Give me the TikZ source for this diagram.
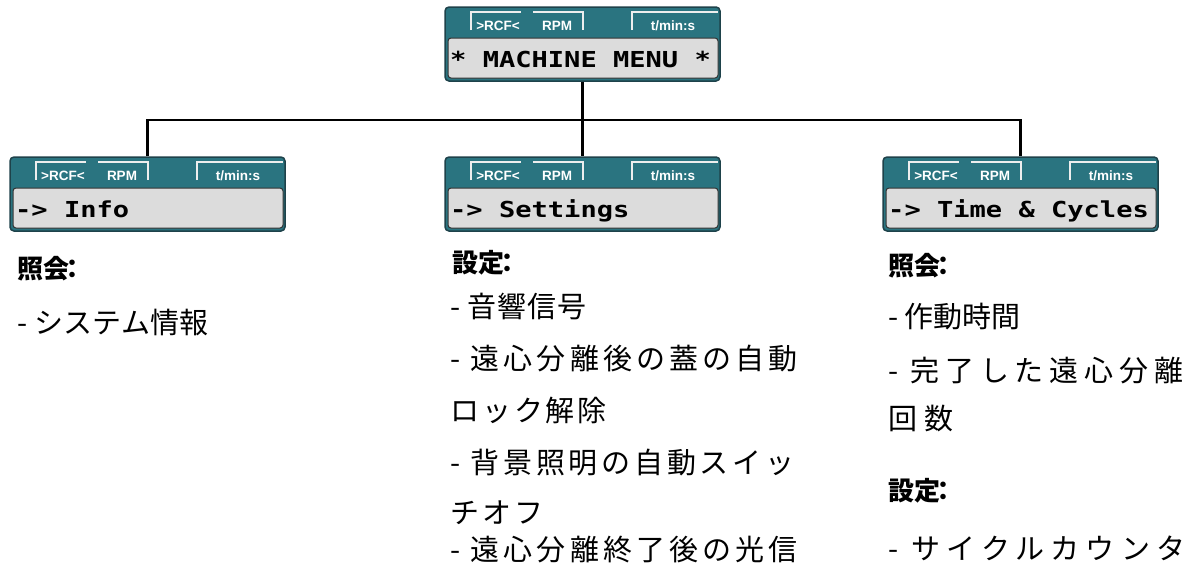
\documentclass[tikz,border=0pt]{standalone}
\usepackage{fontspec}
\usepackage{graphicx}
\newfontfamily\jp{Noto Sans CJK JP}
\newfontfamily\lcdfont{DejaVu Sans Mono}
\newfontfamily\tabfont{Liberation Sans}
\definecolor{lcdteal}{RGB}{42,116,128}
\definecolor{lcdedge}{RGB}{30,66,74}
\definecolor{lcdgray}{RGB}{220,220,220}
\definecolor{tabwhite}{RGB}{238,238,238}
\newcommand\ls[2]{{\addfontfeature{LetterSpace=#1}#2}}
\newcommand\hcolon{\kern-0.36em：}
\tikzset{
  lcdouter/.style={draw=lcdedge, line width=1.5pt, fill=lcdteal, rounded corners=4pt,
    minimum width=275pt, minimum height=74pt, inner sep=0pt},
  lcdinner/.style={draw=black!80, line width=1pt, fill=lcdgray, rounded corners=3pt,
    minimum width=270pt, minimum height=40pt, inner sep=0pt},
  tabline/.style={draw=tabwhite, line width=1.8pt},
  tablabel/.style={text=white, font=\tabfont\bfseries\fontsize{13.5}{15}\selectfont,
    anchor=base, inner sep=0pt},
  lcdtext/.style={font=\lcdfont\bfseries\fontsize{22}{24}\selectfont,
    anchor=base west, inner sep=0pt},
  conn/.style={line width=2.5pt, draw=black},
  headtext/.style={font=\jp\bfseries\fontsize{26}{30}\selectfont, anchor=base west, inner sep=0pt},
  bodytext/.style={font=\jp\fontsize{29}{32}\selectfont, anchor=base west, inner sep=0pt},
}
\newcommand\lcdbox[4]{%
  \node[lcdouter] (#1) at (#2+137.5,#3+37) {};
  \node[lcdinner] (#1-in) at (#2+138,#3+51) {};
  \draw[tabline] (#2+26,#3+23) -- (#2+26,#3+5) -- (#2+76,#3+5);
  \draw[tabline] (#2+88,#3+5) -- (#2+138,#3+5) -- (#2+138,#3+23);
  \draw[tabline] (#2+187,#3+23) -- (#2+187,#3+5) -- (#2+273,#3+5);
  \node[tablabel] (#1-rcf) at (#2+53,#3+23) {>RCF<};
  \node[tablabel] (#1-rpm) at (#2+112,#3+23) {RPM};
  \node[tablabel] (#1-tm) at (#2+228,#3+23) {t/min:s};
  \node[lcdtext] (#1-txt) at (#2+5,#3+60) {\scalebox{1.23}[1]{#4}};
}
\begin{document}
\begin{tikzpicture}[x=1pt,y=-1pt]
\useasboundingbox[fill=white] (0,0) rectangle (1190,573);
\lcdbox{top}{445}{7}{* MACHINE MENU *}
\lcdbox{info}{10}{157}{-> Info}
\lcdbox{sett}{445}{157}{-> Settings}
\lcdbox{time}{883}{157}{-> Time \& Cycles}
\coordinate (bus) at (582.5,120);
\draw[conn] (top.south) -- (bus);
\draw[conn] (info.north) |- (bus) -| (time.north);
\draw[conn] (bus) -- (sett.north);
% left column
\node[headtext] (h1) at (17,278) {照会\hcolon};
\node[bodytext] (l1) at (17,333) {\ls{1}{- システム情報}};
% middle column
\node[headtext] (h2) at (452,272) {設定\hcolon};
\node[bodytext] (m1) at (450,317) {\ls{3.5}{- 音響信号}};
\node[bodytext] (m2) at (450,369) {\ls{14}{- 遠心分離後の蓋の自動}};
\node[bodytext] (m3) at (450,421) {\ls{10}{ロック解除}};
\node[bodytext] (m4) at (450,473) {\ls{13}{- 背景照明の自動スイッ}};
\node[bodytext] (m5) at (450,523) {\ls{11}{チオフ}};
\node[bodytext] (m6) at (450,560) {\ls{14}{- 遠心分離終了後の光信}};
% right column
\node[headtext] (h3) at (888,275) {照会\hcolon};
\node[bodytext] (r1) at (888,327) {\ls{0}{- 作動時間}};
\node[bodytext] (r2) at (888,381) {\ls{20}{- 完了した遠心分離}};
\node[bodytext] (r3) at (888,429) {\ls{24}{回数}};
\node[headtext] (h4) at (888,500) {設定\hcolon};
\node[bodytext] (r4) at (888,559) {\ls{22}{- サイクルカウンタ}};
\end{tikzpicture}
\end{document}
